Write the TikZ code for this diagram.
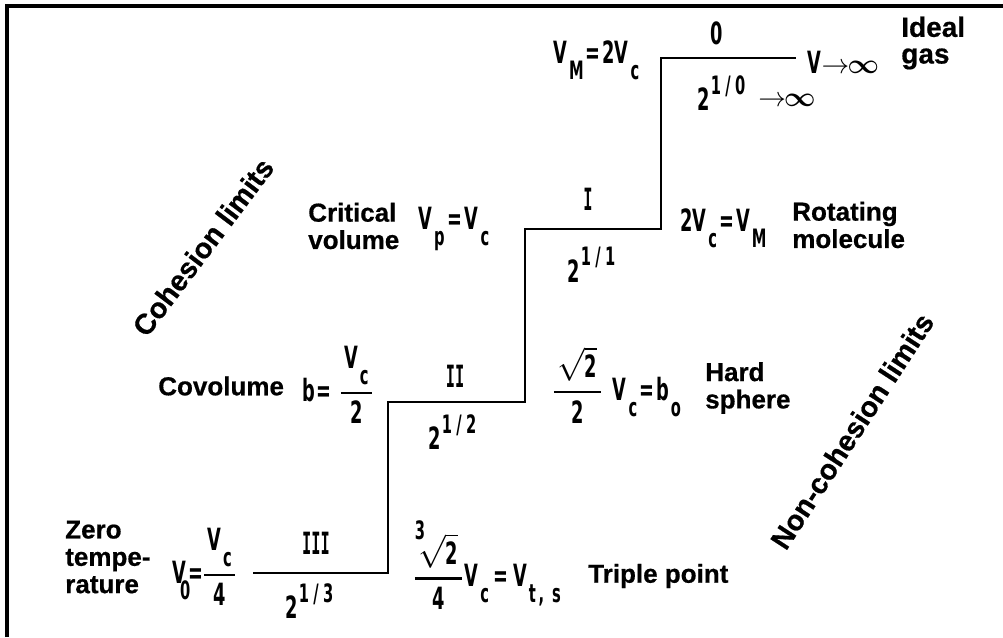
\documentclass[tikz,border=0pt]{standalone}
\usepackage{amsmath}
\usepackage{fontspec}
\setmainfont{Liberation Sans}[BoldFeatures={FakeBold=0.6}]
\newfontfamily\fmlfam[FakeStretch=0.58]{DejaVu Sans Bold}
\newfontfamily\romfam[FakeStretch=0.5]{DejaVu Sans Mono Bold}
\newcommand\fmlF{\fmlfam\fontsize{23}{23}\selectfont}
\newcommand\fmlS{\fmlfam\fontsize{19}{19}\selectfont}
\newcommand\lowr[1]{\kern1.5pt\raisebox{-12pt}{\fmlS #1}}
\newcommand\rais[1]{\kern1pt\raisebox{12.5pt}{\fmlS #1}}
\newcommand\eqs{\kern1.5pt=\kern1.5pt}
\newcommand\fracb[2]{$\genfrac{}{}{1.7pt}{0}{\hbox{\fmlF\kern2.5pt #1\kern2.5pt}}{\hbox{\fmlF #2}}$}
\newcommand\toinf{{\fontsize{19.5}{19.5}\selectfont$\rightarrow$\kern-1.5pt\boldmath$\infty$}}
\begin{document}
\begin{tikzpicture}[x=0.75pt,y=-0.75pt,
  lbl/.style={font=\bfseries\fontsize{19.5}{20.5}\selectfont, inner sep=0pt, align=left},
  fml/.style={font=\fmlF, inner sep=0pt},
  rom/.style={font=\romfam\fontsize{23}{23}\selectfont, inner sep=0pt},
  rotl/.style={font=\bfseries\fontsize{21.5}{21.5}\selectfont, inner sep=0pt},
  stair/.style={line width=2pt, line join=miter},
  frame/.style={line width=2.3pt}]
\useasboundingbox (0,0) rectangle (1003,637);
\draw[frame] (7,637) -- (7,6) -- (1003,6);
% staircase
\coordinate (s0) at (253,573);
\coordinate (s1) at (388,573);
\coordinate (s2) at (388,402);
\coordinate (s3) at (525,402);
\coordinate (s4) at (525,229);
\coordinate (s5) at (661,229);
\coordinate (s6) at (661,58);
\coordinate (s7) at (796,58);
\draw[stair] (s0) -- (s1) -- (s2) -- (s3) -- (s4) -- (s5) -- (s6) -- (s7);
% top level
\node[fml] (n0) at (717,33) {0};
\node[fml, anchor=west] (vm) at (553,60) {V\lowr{M}\eqs 2V\lowr{c}};
\node[fml, anchor=west] (vinf) at (807,62) {V\kern0.5pt\toinf};
\node[fml, anchor=west] (p0) at (697,93) {2\rais{1\,/\,0}};
\node[inner sep=0pt, anchor=west] (inf0) at (758,100) {\toinf};
\node[lbl, anchor=west, font=\bfseries\fontsize{21}{20}\selectfont] (ideal) at (901,43) {Ideal\\gas};
% level I
\node[rom] (n1) at (588,199) {I};
\node[fml, anchor=west] (p1) at (567,265) {2\rais{1\,/\,1}};
\node[fml, anchor=west] (rm) at (680,228) {2V\lowr{c}\eqs V\lowr{M}};
\node[lbl, anchor=west] (rot) at (792,225) {Rotating\\molecule};
\node[lbl, anchor=west] (crit) at (308,226) {Critical\\volume};
\node[fml, anchor=west] (vp) at (418,229) {V\lowr{p}\kern1pt\eqs V\lowr{c}};
\node[rotl, rotate=53] (coh) at (203,247) {Cohesion limits};
% level II
\node[lbl, anchor=west] (cov) at (158,386) {Covolume};
\node[fml, anchor=west] (bf) at (302,385) {b\eqs\kern4pt\fracb{V\lowr{c}}{2}};
\node[rom] (n2) at (455,376) {II};
\node[fml, anchor=west] (p2) at (428,432) {2\rais{1\,/\,2}};
\node[fml, anchor=west] (hs) at (552,385) {\fracb{$\sqrt{\hbox{\fmlF 2}}$}{2}\kern8pt V\lowr{c}\eqs b\lowr{o}};
\node[lbl, anchor=west] (hard) at (705,388) {Hard\\sphere};
\node[rotl, rotate=57] (ncoh) at (852,431) {Non-cohesion limits};
% level III
\node[lbl, anchor=west] (zero) at (65,557) {Zero\\tempe-\\rature};
\node[fml, anchor=west] (v0) at (172,567) {V\kern-6pt\lowr{0}\kern-1pt=\kern-1pt\fracb{V\lowr{c}}{4}};
\node[rom] (n3) at (316,543) {III};
\node[fml, anchor=west] (p3) at (285,601) {2\rais{1\,/\,3}};
\node[fml, anchor=west] (tp) at (413,565) {\fracb{\rlap{\kern-2.5pt\raisebox{19pt}{\fmlS 3}}$\sqrt{\hbox{\fmlF 2}}$}{4}\kern1pt V\lowr{c}\kern2pt\eqs\kern2pt V\lowr{t\kern2pt,\kern6pt s}};
\node[lbl, anchor=west] (trip) at (588,576) {Triple point};
\end{tikzpicture}
\end{document}
